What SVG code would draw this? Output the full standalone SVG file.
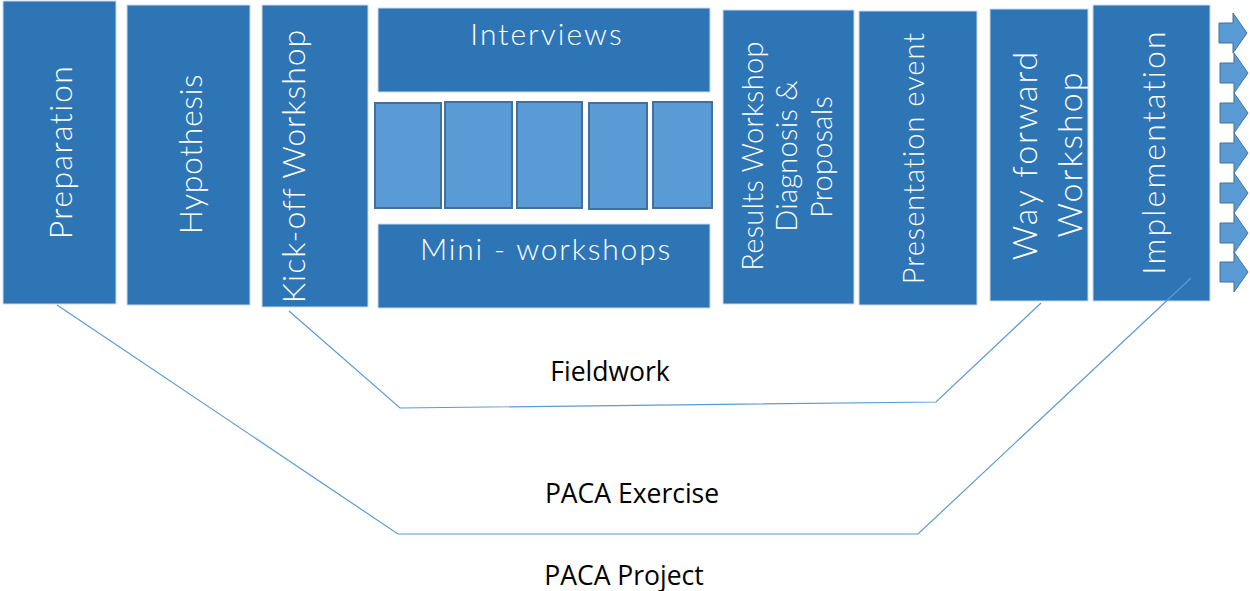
<svg xmlns="http://www.w3.org/2000/svg" width="1250" height="591" viewBox="0 0 1250 591">
<defs>
<style>
.box{fill:#2E75B6;stroke:#C9DAF0;stroke-width:1}
.sq{fill:#5B9BD5;stroke:#41719C;stroke-width:2}
.arr{fill:#5B9BD5;stroke:#41719C;stroke-width:1}
.bt{font-family:Lato,"Open Sans","Liberation Sans",sans-serif;font-weight:300;fill:#FFFFFF;text-anchor:middle}
.lab{font-family:"Open Sans","Liberation Sans",sans-serif;font-size:26.5px;fill:#000000;text-anchor:middle}
.con{fill:none;stroke:#5B9BD5;stroke-width:1.2}
</style>
<path id="arrowShape" d="M0,-10 H14 V-20 L28,0 L14,20 V10 H0 Z"/>
</defs>
<rect width="1250" height="591" fill="#FFFFFF"/>

<g id="preparation">
<rect class="box" x="3" y="1" width="113" height="303"/>
<text class="bt" style="font-size:32px;letter-spacing:1.5px" transform="translate(72,152) rotate(-90)">Preparation</text>
</g>
<g id="hypothesis">
<rect class="box" x="127" y="5" width="123" height="300"/>
<text class="bt" style="font-size:32px;letter-spacing:0.6px" transform="translate(202,154) rotate(-90)">Hypothesis</text>
</g>
<g id="kickoff">
<rect class="box" x="262" y="5" width="106" height="302"/>
<text class="bt" style="font-size:32px;letter-spacing:1px" transform="translate(305,166) rotate(-90)">Kick-off Workshop</text>
</g>
<g id="interviews">
<rect class="box" x="378" y="8" width="332" height="84"/>
<text class="bt" style="font-size:30px;letter-spacing:2px" x="547" y="45">Interviews</text>
</g>
<g id="fieldwork-squares">
<rect class="sq" x="375" y="103" width="66" height="105"/>
<rect class="sq" x="445" y="102" width="67" height="106"/>
<rect class="sq" x="517" y="102" width="65" height="106"/>
<rect class="sq" x="589" y="103" width="58" height="106"/>
<rect class="sq" x="653" y="102" width="59" height="106"/>
</g>
<g id="miniworkshops">
<rect class="box" x="378" y="224" width="332" height="84"/>
<text class="bt" style="font-size:30px;letter-spacing:1.8px" x="546" y="260">Mini - workshops</text>
</g>
<g id="results">
<rect class="box" x="723" y="10" width="131" height="294"/>
<text class="bt" style="font-size:29px;letter-spacing:0.3px" transform="translate(763,156) rotate(-90)">Results Workshop</text>
<text class="bt" style="font-size:29px;letter-spacing:0.3px" transform="translate(797,156) rotate(-90)">Diagnosis &amp;</text>
<text class="bt" style="font-size:29px;letter-spacing:0.3px" transform="translate(832,157) rotate(-90)">Proposals</text>
</g>
<g id="presentation">
<rect class="box" x="859" y="11" width="118" height="294"/>
<text class="bt" style="font-size:29px;letter-spacing:1px" transform="translate(924,158) rotate(-90)">Presentation event</text>
</g>
<g id="wayforward">
<rect class="box" x="990" y="9" width="98" height="292"/>
<text class="bt" style="font-size:34px;letter-spacing:2px" transform="translate(1037,155) rotate(-90)">Way forward</text>
<text class="bt" style="font-size:34px;letter-spacing:2px" transform="translate(1082,154) rotate(-90)">Workshop</text>
</g>
<g id="implementation">
<rect class="box" x="1093" y="5" width="117" height="296"/>
<text class="bt" style="font-size:32px;letter-spacing:2.2px" transform="translate(1165,152) rotate(-90)">Implementation</text>
</g>
<g id="arrows">
<use href="#arrowShape" class="arr" x="1219" y="33"/>
<use href="#arrowShape" class="arr" x="1220" y="73"/>
<use href="#arrowShape" class="arr" x="1220" y="113"/>
<use href="#arrowShape" class="arr" x="1220" y="153"/>
<use href="#arrowShape" class="arr" x="1220" y="193"/>
<use href="#arrowShape" class="arr" x="1220" y="233"/>
<use href="#arrowShape" class="arr" x="1220" y="272"/>
</g>

<g id="connectors">
<polyline class="con" points="57,305 398,534 918,534 1191,278"/>
<polyline class="con" points="289,311 400,408 936,402 1041,303"/>
</g>

<g id="labels">
<text class="lab" x="610" y="381">Fieldwork</text>
<text class="lab" x="632" y="503">PACA Exercise</text>
<text class="lab" x="624" y="585">PACA Project</text>
</g>
</svg>
